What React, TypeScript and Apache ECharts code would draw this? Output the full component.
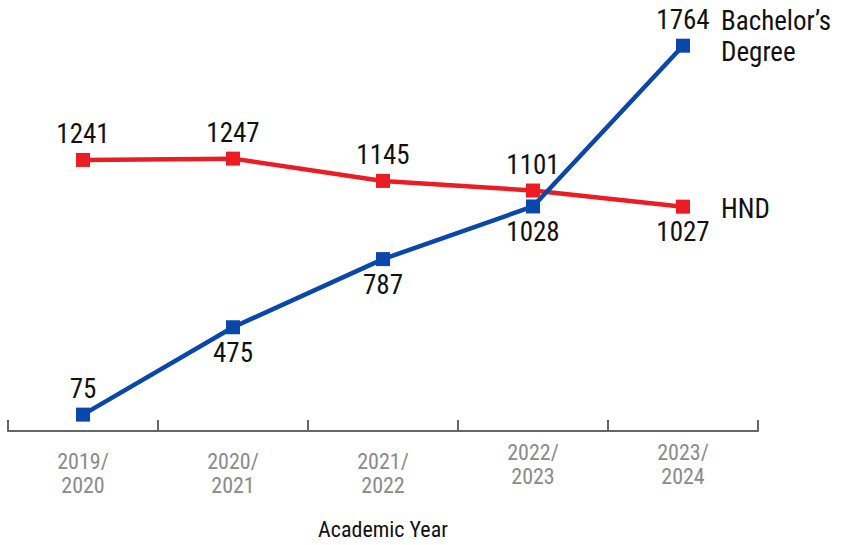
import React, { useEffect, useRef } from "react";
import * as echarts from "echarts";

const years = ["2019/\n2020", "2020/\n2021", "2021/\n2022", "2022/\n2023", "2023/\n2024"];
const hnd = [1241, 1247, 1145, 1101, 1027];
const bachelors = [75, 475, 787, 1028, 1764];
const hndLabelPos = ["top", "top", "top", "top", "bottom"];
const bachLabelPos = ["top", "bottom", "bottom", "bottom", "top"];

const FONT = "'Roboto Condensed', 'Noto Sans Condensed', 'Liberation Sans Narrow', 'DejaVu Sans Condensed', sans-serif";
const BLUE = "#0a47ad";
const RED = "#ec1c24";

export default function App() {
  const ref = useRef<HTMLDivElement>(null);
  useEffect(() => {
    document.body.style.margin = "0";
    const chart = echarts.init(ref.current!, null, { renderer: "svg" });
    const labelStyle = { fontFamily: FONT, fontSize: 27, color: "#111" };
    chart.setOption({
      animation: false,
      grid: { left: 8, right: 87, top: 16, bottom: 113 },
      xAxis: {
        type: "category",
        data: years.map((y, i) => ({
          value: y,
          textStyle: { padding: i < 3 ? [9, 0, 0, 0] : [0, 0, 0, 0] },
        })),
        boundaryGap: true,
        axisLine: { show: true, lineStyle: { color: "#666", width: 2 } },
        axisTick: { show: true, inside: true, length: 11, interval: 0, lineStyle: { color: "#666", width: 2 } },
        axisLabel: {
          fontFamily: FONT,
          fontSize: 22,
          color: "#8a8a8a",
          lineHeight: 24,
          margin: 9,
        },
        name: "Academic Year",
        nameLocation: "middle",
        nameGap: 87,
        nameTextStyle: { fontFamily: FONT, fontSize: 22, color: "#111" },
      },
      yAxis: { type: "value", min: 0, max: 1900, show: false, splitLine: { show: false } },
      series: [
        {
          name: "HND",
          type: "line",
          data: hnd.map((v, i) => ({ value: v, label: { position: hndLabelPos[i] } })),
          symbol: "rect",
          symbolSize: 14,
          lineStyle: { color: RED, width: 4.5 },
          itemStyle: { color: RED },
          label: { show: true, ...labelStyle },
          endLabel: {
            show: true,
            formatter: "HND",
            ...labelStyle,
            offset: [30, 2],
          },
        },
        {
          name: "Bachelor’s Degree",
          type: "line",
          data: bachelors.map((v, i) => ({ value: v, label: { position: bachLabelPos[i] } })),
          symbol: "rect",
          symbolSize: 14,
          lineStyle: { color: BLUE, width: 4.5 },
          itemStyle: { color: BLUE },
          label: { show: true, ...labelStyle },
          endLabel: {
            show: true,
            formatter: "Bachelor’s\nDegree",
            ...labelStyle,
            lineHeight: 31,
            offset: [30, -9],
          },
        },
      ],
    });
    return () => chart.dispose();
  }, []);
  return <div ref={ref} style={{ width: 845, height: 545 }} />;
}
